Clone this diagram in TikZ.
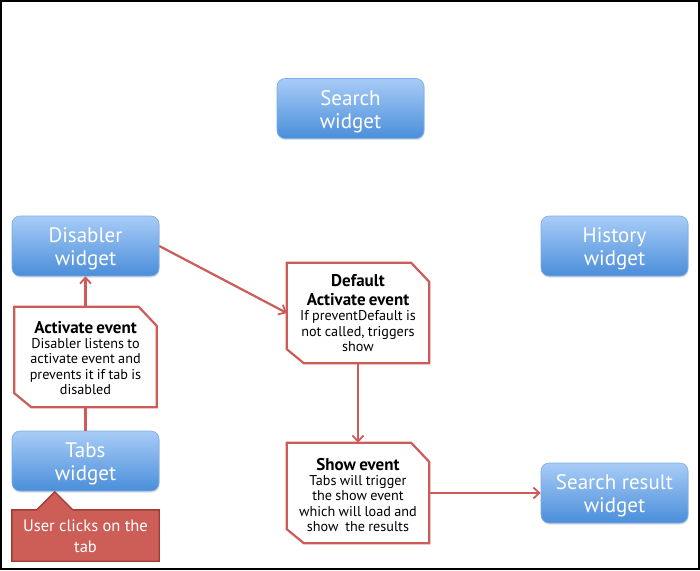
\documentclass[tikz,border=0pt]{standalone}
\usepackage{fontspec}
\setmainfont{PT Sans}
\usetikzlibrary{arrows.meta,shadows}
\definecolor{btop}{HTML}{A8CCF7}
\definecolor{bbot}{HTML}{4A8EDA}
\definecolor{bedge}{HTML}{7DADE6}
\definecolor{evred}{HTML}{CD5B57}
\definecolor{clickfill}{HTML}{CC5E57}
\definecolor{clickedge}{HTML}{A23A35}
\tikzset{
  widget/.style={rounded corners=8pt, top color=btop, bottom color=bbot, draw=bedge, line width=0.6pt,
    minimum width=147pt, minimum height=60pt, inner sep=0pt, text=white, align=center,
    font=\fontsize{21}{23}\selectfont,
    drop shadow={opacity=0.25, shadow xshift=0.6pt, shadow yshift=-1.6pt}},
  evbox/.style={minimum width=142pt, minimum height=100pt, inner sep=0pt, text width=140pt, align=center},
  evline/.style={draw=evred, line width=2.2pt, fill=white, line join=miter},
  conn/.style={draw=evred, line width=2.2pt},
  arr/.style={conn, -{Straight Barb[length=6pt,width=11pt,line width=1.8pt]}},
}
\newcommand{\wt}[2]{\raisebox{-3.5pt}[\height][\depth]{\begin{tabular}{@{}c@{}}#1\\#2\end{tabular}}}
\newcommand{\evtitle}[1]{{\bfseries\fontsize{17}{19}\selectfont #1\par}}
\newcommand{\evbody}[1]{{\fontsize{14.2}{15.4}\selectfont #1\par}}
\newcommand{\evshape}[1]{%
  \path[evline] (#1.north west) -- ([xshift=-18pt]#1.north east) -- ([yshift=-19pt]#1.north east)
    -- (#1.south east) -- ([xshift=17pt]#1.south west) -- ([yshift=14pt]#1.south west) -- cycle;}
\begin{document}
\begin{tikzpicture}[x=1pt,y=-1pt]
\useasboundingbox (0,0) rectangle (700,570);
\fill[white] (0,0) rectangle (700,570);

% widgets
\node[widget] (search) at (350.5,108.5) {\wt{Search}{widget}};
\node[widget] (dis) at (85.5,246) {\wt{Disabler}{widget}};
\node[widget] (hist) at (614.5,246) {\wt{History}{widget}};
\node[widget] (tabs) at (85.5,461) {\wt{Tabs}{widget}};
\node[widget] (sr) at (614.5,493) {\wt{Search result}{widget}};

% event callouts
\node[evbox] (act) at (85.5,357) {};
\node[evbox] (def) at (358,313) {};
\node[evbox] (show) at (358,493) {};
\evshape{act}
\evshape{def}
\evshape{show}
\node[evbox] (acttxt) at ([yshift=-1pt]act.center) {\evtitle{Activate event}\evbody{Disabler listens to\\activate event and\\prevents it if tab is\\disabled}};
\node[evbox] (deftxt) at (def.center) {\evtitle{Default\\Activate event}\evbody{If preventDefault is\\not called, triggers\\show}};
\node[evbox] (showtxt) at ([yshift=-2pt]show.center) {\evtitle{Show event}\evbody{Tabs will trigger\\the show event\\which will load and\\show\ \ the results}};

% user click callout
\node[minimum width=147pt, minimum height=51pt, inner sep=0pt] (click) at (85.5,535.5) {};
\path[fill=clickfill, draw=clickedge, line width=1.4pt, line join=miter]
  (click.north west) -- ([xshift=25pt]click.north west) -- ([xshift=43pt,yshift=18pt]click.north west)
  -- ([xshift=61pt]click.north west) -- (click.north east) -- (click.south east) -- (click.south west) -- cycle;
\node[text=white, align=center, font=\fontsize{16.5}{21}\selectfont] (clicktxt) at ([yshift=-1pt]click.center) {User clicks on the\\tab};

% connectors
\draw[conn] (tabs.north) -- (act.south);
\draw[arr] (act.north) -- (dis.south);
\draw[arr] (dis.east) -- (def.west);
\draw[arr] (def.south) -- (show.north);
\draw[arr] (show.east) -- (sr.west);

% frame
\draw[black, line width=2pt] (1,1) rectangle (699,569);
\end{tikzpicture}
\end{document}
